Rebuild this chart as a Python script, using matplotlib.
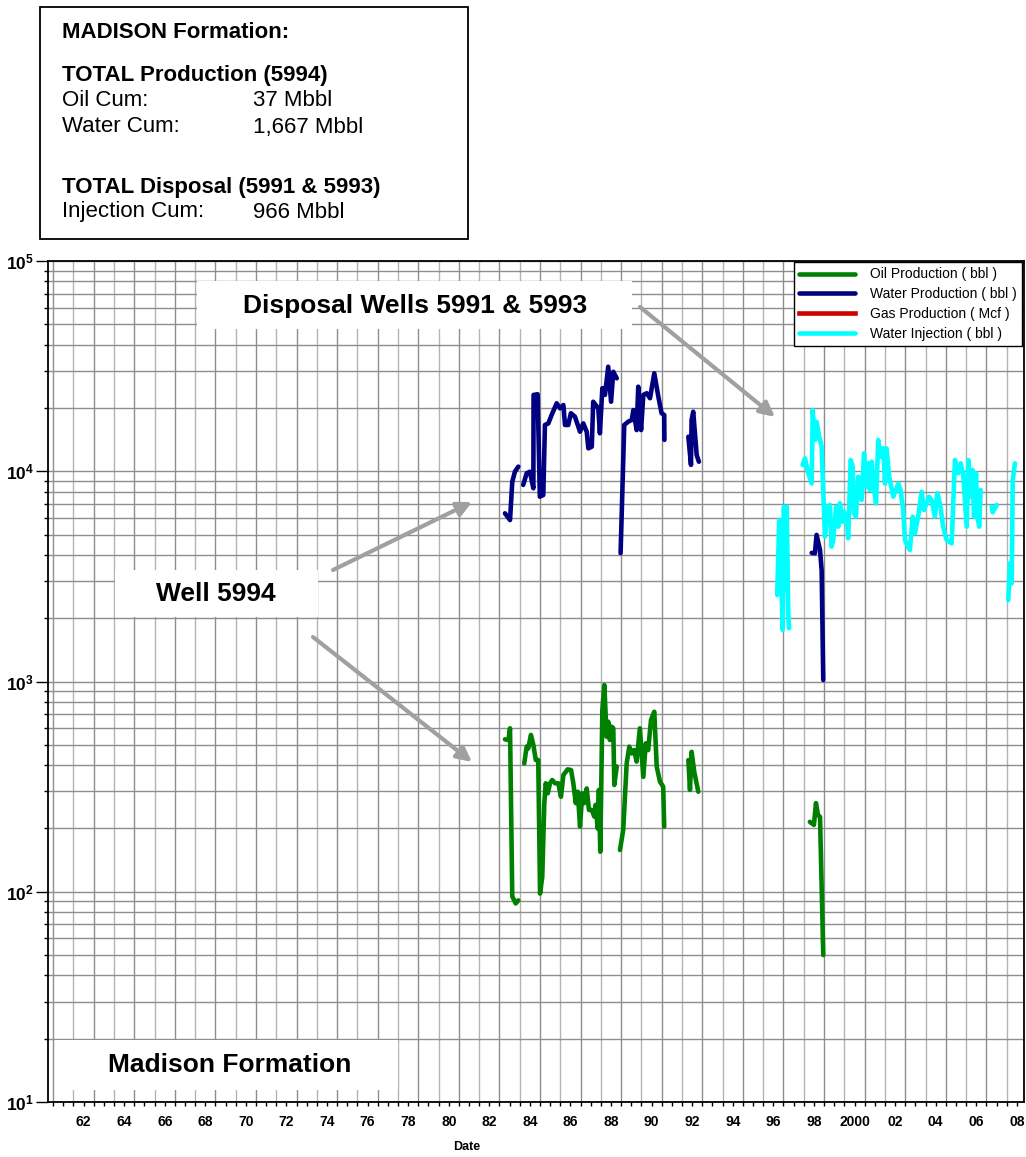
import numpy as np
import matplotlib
matplotlib.use("Agg")
import matplotlib.pyplot as plt
from matplotlib.patches import Rectangle
from matplotlib.ticker import LogLocator, FixedLocator, NullFormatter

plt.rcParams["font.family"] = ["Liberation Sans", "DejaVu Sans"]
plt.rcParams["mathtext.fontset"] = "custom"
plt.rcParams["mathtext.rm"] = "Liberation Sans"
plt.rcParams["mathtext.bf"] = "Liberation Sans:bold"

nan = np.nan

# ---- monthly production / injection history (decimal year, volume) ----
oil_year = [1983.27, 1983.44, 1983.52, 1983.63, 1983.80, 1983.93, nan,
            1984.22, 1984.34, 1984.42, 1984.55, 1984.67, 1984.79, 1984.91, 1985.00,
            1985.11, 1985.21, 1985.28, 1985.38, 1985.49, 1985.60, 1985.74, 1985.90,
            1986.03, 1986.15, 1986.36, 1986.53, 1986.64, 1986.76, 1986.86, 1986.97,
            1987.08, 1987.18, 1987.30, 1987.41, 1987.55, 1987.67, 1987.74, 1987.84,
            1987.90, 1987.97, 1988.07, 1988.17, 1988.28, 1988.36, 1988.44, 1988.53,
            1988.61, 1988.66, 1988.78, nan,
            1988.94, 1989.10, 1989.27, 1989.40, 1989.52, 1989.64, 1989.76, 1989.92,
            1990.09, 1990.21, 1990.33, 1990.47, 1990.63, 1990.75, 1990.91, 1991.07,
            1991.12, nan,
            1992.31, 1992.39, 1992.47, 1992.60, 1992.80, nan,
            1998.30, 1998.50, 1998.60, 1998.70, 1998.80, 1998.96]
oil_bbl = [531, 527, 599, 95, 88, 91, nan,
           408, 490, 481, 557, 499, 423, 423, 98,
           118, 264, 328, 294, 328, 340, 328, 328,
           283, 359, 382, 379, 328, 264, 299, 204,
           294, 264, 310, 245, 245, 228, 259, 200,
           305, 155, 731, 962, 546, 644, 527, 610,
           599, 322, 394, nan,
           158, 197, 408, 490, 455, 472, 416, 599,
           352, 508, 472, 656, 718, 394, 334, 316,
           204, nan,
           423, 305, 463, 372, 299, nan,
           215, 208, 264, 232, 227, 50]

water_year = [1983.27, 1983.52, 1983.63, 1983.76, 1983.93, nan,
              1984.17, 1984.34, 1984.50, 1984.67, 1984.68, 1984.88, 1984.99, 1985.16,
              1985.24, 1985.41, 1985.57, 1985.82, 1985.98, 1986.15, 1986.23, 1986.39,
              1986.52, 1986.72, 1986.97, 1987.13, 1987.30, 1987.38, 1987.55, 1987.62,
              1987.87, 1987.95, 1988.07, 1988.20, 1988.36, 1988.50, 1988.61, 1988.78, nan,
              1988.97, 1989.15, 1989.35, 1989.52, 1989.60, 1989.76, 1989.84, 1989.98,
              1990.09, 1990.26, 1990.42, 1990.63, 1990.83, 1990.99, 1991.12, 1991.13, nan,
              1992.31, 1992.44, 1992.47, 1992.55, 1992.72, 1992.83, nan,
              1998.39, 1998.55, 1998.63, 1998.80, 1998.88, 1998.96]
water_bbl = [6310, 5860, 8910, 9950, 10520, nan,
             8610, 9780, 9950, 8300, 23070, 23240, 7570, 7710,
             16600, 16900, 18530, 21050, 19920, 20650, 16600, 16600,
             18880, 18170, 15420, 16900, 15420, 12850, 13090, 21410,
             19920, 15150, 24830, 23070, 31410, 21410, 29720, 27670, nan,
             4080, 16600, 17220, 17540, 19550, 15700, 25250, 15700,
             23070, 23500, 22250, 29240, 22650, 18880, 18530, 14100, nan,
             14600, 10720, 17540, 19190, 11950, 11100, nan,
             4090, 4075, 4980, 4220, 3390, 1016]

gas_year = []
gas_mcf = []

inj_year = [1996.69, 1996.79, 1996.86, 1996.96, 1997.02, 1997.12, 1997.16, 1997.24, 1997.28, nan,
            1997.94, 1998.06, 1998.22, 1998.39, 1998.44, 1998.55, 1998.63, 1998.76,
            1998.88, 1999.04, 1999.21, 1999.29, 1999.37, 1999.45, 1999.59, 1999.70,
            1999.78, 1999.92, 1999.98, 2000.11, 2000.19, 2000.31, 2000.41, 2000.47,
            2000.57, 2000.69, 2000.77, 2000.85, 2000.97, 2001.10, 2001.18, 2001.26,
            2001.35, 2001.42, 2001.56, 2001.67, 2001.80, 2001.92, 2002.00, 2002.08,
            2002.21, 2002.41, 2002.54, 2002.66, 2002.77, 2002.90, 2002.99, 2003.10,
            2003.23, 2003.37, 2003.48, 2003.64, 2003.81, 2003.92, 2004.06, 2004.18,
            2004.30, 2004.46, 2004.58, 2004.71, 2004.87, 2005.04, 2005.29, 2005.45,
            2005.61, 2005.73, 2005.86, 2006.03, 2006.11, 2006.22, 2006.32, 2006.39,
            2006.49, 2006.55, 2006.65, 2006.72, nan,
            2007.26, 2007.31, 2007.51, nan,
            2008.08, 2008.16, 2008.25, 2008.30, 2008.41]
inj_bbl = [2578, 5861, 3925, 1758, 6781, 2724, 6781, 2033, 1791, nan,
           10710, 11520, 9780, 8750, 19560, 14080, 17200, 14600,
           13090, 4880, 6780, 6910, 4380, 4710, 6780, 5450,
           7040, 5750, 6420, 6080, 4800, 11310, 10510, 6310,
           6080, 9420, 7570, 7300, 12170, 8440, 10910, 8140,
           11100, 8750, 7040, 14080, 11730, 12850, 8750, 12850,
           9420, 7570, 8140, 8750, 8140, 6540, 4710, 4460,
           4220, 6080, 5070, 6080, 7990, 6540, 7040, 7570,
           7300, 6080, 7860, 7040, 5450, 4710, 4540, 11310,
           9780, 10910, 9600, 5450, 11310, 7570, 10140, 6080,
           9780, 6080, 5450, 8140, nan,
           6780, 6380, 6910, nan,
           2440, 3650, 2930, 9090, 10910]

year_labels = ["62", "64", "66", "68", "70", "72", "74", "76", "78", "80", "82", "84",
               "86", "88", "90", "92", "94", "96", "98", "2000", "02", "04", "06", "08"]
label_years = list(range(1962, 2009, 2))

series_names = ["Oil Production ( bbl )", "Water Production ( bbl )",
                "Gas Production ( Mcf )", "Water Injection ( bbl )"]
series_colors = ["#008000", "#000080", "#d00000", "#00ffff"]

W, H = 1026, 1157
fig = plt.figure(figsize=(W / 100, H / 100), dpi=100)
x0, x1, y0, y1 = 47.7, 1024.3, 261, 1102
ax = fig.add_axes([x0 / W, 1 - y1 / H, (x1 - x0) / W, (y1 - y0) / H])

ax.set_yscale("log")
ax.set_ylim(10, 1e5)
ax.set_xlim(1960.73, 2008.87)

# grid: yearly verticals, log minor horizontals
for yr in range(1961, 2009):
    ax.axvline(yr, color="#b4b4b4" if yr % 2 == 0 else "#8e8e8e", lw=1.0, zorder=0.5)
ax.yaxis.set_major_locator(LogLocator(base=10, numticks=10))
ax.yaxis.set_minor_locator(LogLocator(base=10, subs=np.arange(2, 10), numticks=10))
ax.yaxis.set_minor_formatter(NullFormatter())
ax.grid(axis="y", which="both", color="#8e8e8e", lw=1.0, zorder=0.5)
ax.set_axisbelow(True)

ax.set_yticks([10, 100, 1000, 10000, 100000])
ax.set_yticklabels([r"$\mathbf{10^{%d}}$" % k for k in range(1, 6)], fontsize=12.5)
ax.tick_params(axis="y", which="major", length=8.4, width=1, pad=1.5, direction="out")
ax.tick_params(axis="y", which="minor", length=3, width=1, direction="out")

ax.set_xticks([y + 0.5 for y in label_years])
ax.set_xticklabels(year_labels, fontsize=10, fontweight="bold")
minor_x = [y + 0.5 for y in range(1961, 2009, 2)] + list(range(1961, 2009))
ax.xaxis.set_minor_locator(FixedLocator(minor_x))
ax.tick_params(axis="x", which="both", length=3, width=1, direction="out", pad=6)

for s in ax.spines.values():
    s.set_color("black")
    s.set_linewidth(1.3)

lw = 3.3
ax.plot(oil_year, oil_bbl, color=series_colors[0], lw=lw, label=series_names[0],
        solid_joinstyle="round", solid_capstyle="round", zorder=3)
ax.plot(water_year, water_bbl, color=series_colors[1], lw=lw, label=series_names[1],
        solid_joinstyle="round", solid_capstyle="round", zorder=3)
ax.plot(gas_year, gas_mcf, color=series_colors[2], lw=lw, label=series_names[2], zorder=3)
ax.plot(inj_year, inj_bbl, color=series_colors[3], lw=lw, label=series_names[3],
        solid_joinstyle="round", solid_capstyle="round", zorder=3)

leg = ax.legend(loc="upper right", bbox_to_anchor=(0.998, 0.999), borderaxespad=0,
                fontsize=10, handlelength=4.0, handletextpad=1.1, labelspacing=0.42,
                borderpad=0.4, fancybox=False, framealpha=1, edgecolor="black")
leg.get_frame().set_linewidth(1.0)
leg.set_zorder(10)


def fx(px):
    return px / W


def fy(py):
    return 1 - py / H


# white annotation panels inside the plot
for (bx0, by0, bx1, by1) in [(197, 281, 632, 329), (115, 570, 318, 617), (55, 1040, 398, 1090)]:
    ax.add_patch(Rectangle((fx(bx0), fy(by1)), fx(bx1) - fx(bx0), fy(by0) - fy(by1),
                           transform=fig.transFigure, facecolor="white",
                           edgecolor="none", zorder=4))
ax.text(fx(415), fy(306), "Disposal Wells 5991 & 5993", transform=fig.transFigure,
        fontsize=19, fontweight="bold", ha="center", va="center", zorder=5)
ax.text(fx(216), fy(594), "Well 5994", transform=fig.transFigure,
        fontsize=19, fontweight="bold", ha="center", va="center", zorder=5)
ax.text(fx(230), fy(1065), "Madison Formation", transform=fig.transFigure,
        fontsize=19, fontweight="bold", ha="center", va="center", zorder=5)

# gray pointer arrows
for (sx, sy, ex, ey) in [(333, 570, 472, 502), (313, 637, 472, 762), (640, 307, 775, 417)]:
    ax.annotate("", xy=(fx(ex), fy(ey)), xytext=(fx(sx), fy(sy)),
                xycoords="figure fraction", textcoords="figure fraction",
                arrowprops=dict(arrowstyle="-|>", color="#a0a0a0", lw=3,
                                mutation_scale=22, shrinkA=0, shrinkB=0),
                zorder=6)

# summary box above the plot
fig.patches.append(Rectangle((fx(40), fy(239)), fx(468) - fx(40), fy(7) - fy(239),
                             transform=fig.transFigure, facecolor="white",
                             edgecolor="black", lw=1.3))
tx, vx = fx(62), fx(253)
fig.text(tx, fy(33), "MADISON Formation:", fontsize=16, fontweight="bold", va="center")
fig.text(tx, fy(75), "TOTAL Production (5994)", fontsize=16, fontweight="bold", va="center")
fig.text(tx, fy(101), "Oil Cum:", fontsize=16, va="center")
fig.text(vx, fy(101), "37 Mbbl", fontsize=16, va="center")
fig.text(tx, fy(127), "Water Cum:", fontsize=16, va="center")
fig.text(vx, fy(127), "1,667 Mbbl", fontsize=16, va="center")
fig.text(tx, fy(187), "TOTAL Disposal (5991 & 5993)", fontsize=16, fontweight="bold", va="center")
fig.text(tx, fy(212), "Injection Cum:", fontsize=16, va="center")
fig.text(vx, fy(212), "966 Mbbl", fontsize=16, va="center")

fig.text(fx(467), fy(1147), "Date", fontsize=9, fontweight="bold", ha="center", va="center")

fig.savefig("out.png", dpi=100)
